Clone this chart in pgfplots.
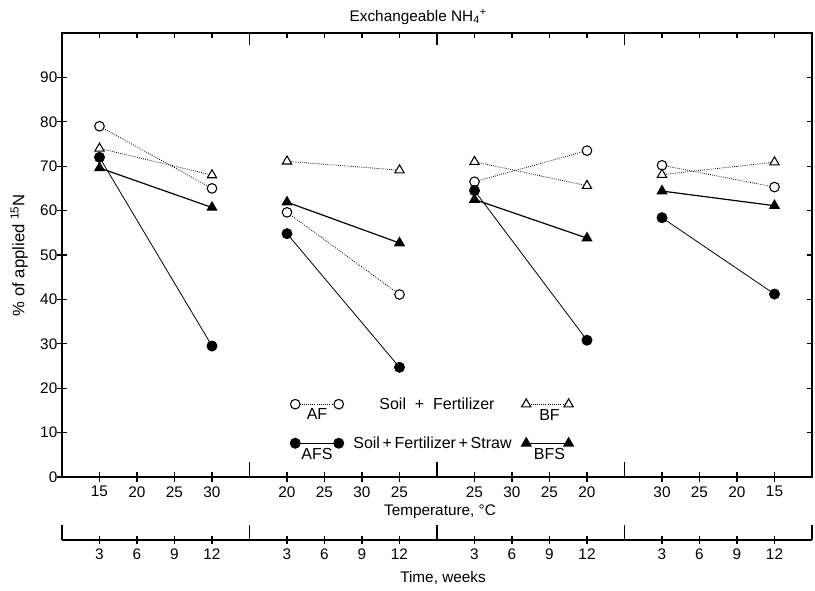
\documentclass[border=0pt]{standalone}
\usepackage{fontspec}
\setmainfont{Liberation Sans}
\usepackage{pgfplots}
\pgfplotsset{compat=1.18}

\begin{document}
\begin{tikzpicture}
\pgfplotsset{
  panelbox/.style={
    scale only axis, width=562.5pt, height=333pt,
    xmin=0, xmax=20, ymin=0, ymax=100,
    axis line style={line width=1.3pt},
    /pgf/number format/assume math mode=true,
    tick style={black, line width=0.9pt},
    ticklabel style={font=\fontsize{11.5}{13}\selectfont},
  },
  af/.style={densely dotted, line width=0.6pt, mark=*, mark size=3.6pt,
    mark options={solid, fill=white, line width=0.8pt}},
  bf/.style={densely dotted, line width=0.6pt, mark=triangle*, mark size=4pt,
    mark options={solid, fill=white, line width=0.8pt}},
  afs/.style={solid, line width=0.6pt, mark=*, mark size=3.8pt,
    mark options={fill=black}},
  bfs/.style={solid, line width=0.9pt, mark=triangle*, mark size=4pt,
    mark options={fill=black}},
}
\begin{axis}[panelbox, name=main, clip=false, unbounded coords=jump,
  xtick={1,2,3,4,6,7,8,9,11,12,13,14,16,17,18,19},
  xticklabels={15,20,25,30,20,25,30,25,25,30,25,20,30,25,20,15},
  xtick pos=left, ytick pos=left,
  ytick={0,10,...,90},
  yticklabel style={xshift=3.5pt},
  tick align=center, major tick length=7pt,
  extra x ticks={5,10,15}, extra x tick labels={},
  extra x tick style={tick align=inside, major tick length=11pt},
  title={Exchangeable NH\textsubscript{4}\textsuperscript{+}},
  title style={at={(axis description cs:0.475,1.018)}, anchor=center,
    font=\fontsize{11.5}{13}\selectfont},
  ylabel={\% of applied \textsuperscript{15}N},
  ylabel style={at={(axis description cs:-0.057,0.5)}, anchor=center,
    font=\fontsize{12.5}{14}\selectfont},
  xlabel={Temperature, °C},
  xlabel style={at={(axis description cs:0.504,-0.079)}, anchor=center,
    font=\fontsize{11.5}{13}\selectfont},
]
\addplot[af] coordinates {(1,79) (4,65) (5,nan) (6,59.6) (9,41.1) (10,nan)
  (11,66.5) (14,73.5) (15,nan) (16,70.2) (19,65.3)};
\addplot[bf] coordinates {(1,74) (4,68) (5,nan) (6,71.1) (9,69.1) (10,nan)
  (11,71) (14,65.6) (15,nan) (16,68.1) (19,70.9)};
\addplot[afs] coordinates {(1,72) (4,29.5) (5,nan) (6,54.8) (9,24.7) (10,nan)
  (11,64.5) (14,30.8) (15,nan) (16,58.4) (19,41.2)};
\addplot[bfs] coordinates {(1,69.6) (4,60.7) (5,nan) (6,61.9) (9,52.7) (10,nan)
  (11,62.5) (14,53.8) (15,nan) (16,64.4) (19,61.1)};
% key
\addplot[af, forget plot] coordinates {(6.22,16.4) (7.38,16.4)};
\addplot[bf, forget plot] coordinates {(12.38,16.4) (13.51,16.4)};
\addplot[afs, forget plot] coordinates {(6.22,7.6) (7.38,7.6)};
\addplot[bfs, forget plot] coordinates {(12.38,7.6) (13.51,7.6)};
\begin{scope}[font=\fontsize{12}{14}\selectfont]
\node at (axis cs:6.8,14.1) {AF};
\node at (axis cs:13.0,14.0) {BF};
\node at (axis cs:6.8,5.2) {AFS};
\node at (axis cs:13.0,5.1) {BFS};
\node at (axis cs:10.0,16.4) {Soil \ + \ Fertilizer};
\node at (axis cs:9.88,7.6) {Soil\,+\,Fertilizer\,+\,Straw};
\end{scope}
\end{axis}

\begin{axis}[panelbox,
  xtick={1,2,3,4,6,7,8,9,11,12,13,14,16,17,18,19}, xticklabels={},
  ytick={10,20,...,90}, yticklabels={},
  xtick pos=right, ytick pos=right,
  tick align=inside, major tick length=4pt,
  extra x ticks={5,10,15}, extra x tick labels={},
  extra x tick style={major tick length=9pt},
]
\end{axis}

\begin{axis}[scale only axis, width=562.5pt, height=15pt, at={(0,-47.25pt)},
  xmin=0, xmax=20, ymin=0, ymax=1,
  axis x line*=bottom, axis y line=none,
  axis line style={line width=1.3pt, -},
  /pgf/number format/assume math mode=true,
  tick style={black, line width=0.9pt},
  ticklabel style={font=\fontsize{11.5}{13}\selectfont},
  xtick={1,2,3,4,6,7,8,9,11,12,13,14,16,17,18,19},
  xticklabels={3,6,9,12,3,6,9,12,3,6,9,12,3,6,9,12},
  tick align=center, major tick length=6pt,
  extra x ticks={0,5,10,15,20}, extra x tick labels={},
  extra x tick style={tick align=inside, major tick length=11pt},
  xlabel={Time, weeks},
  xlabel style={at={(axis description cs:0.508,0)}, yshift=-28.5pt,
    anchor=center, font=\fontsize{11.5}{13}\selectfont},
]
\end{axis}

\pgfresetboundingbox
\path (0,0) ++(-46.5pt,-85.5pt) rectangle ++(611.25pt,443.25pt);
\end{tikzpicture}
\end{document}
